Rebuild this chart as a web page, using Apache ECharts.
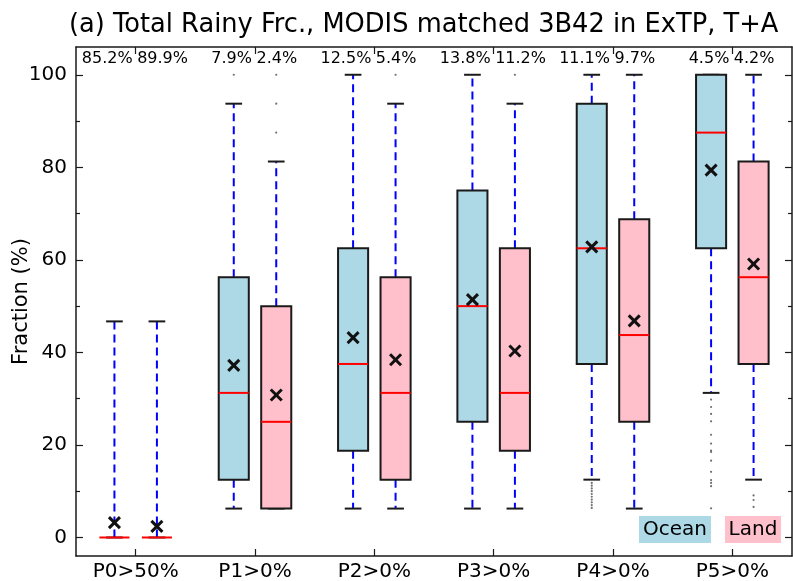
<!DOCTYPE html>
<html>
<head>
<meta charset="utf-8">
<script src="https://cdn.jsdelivr.net/npm/echarts@6/dist/echarts.min.js"></script>
<style>
  html, body { margin: 0; padding: 0; background: #fff; }
  #chart { width: 793px; height: 581px; }
</style>
</head>
<body>
<div id="chart"></div>
<script>
// Categories along the x axis
const categories = ['P0>50%', 'P1>0%', 'P2>0%', 'P3>0%', 'P4>0%', 'P5>0%'];

// Share of samples per group, printed above each box
const oceanPct = ['85.2%', '7.9%', '12.5%', '13.8%', '11.1%', '4.5%'];
const landPct  = ['89.9%', '2.4%', '5.4%', '11.2%', '9.7%', '4.2%'];

// Box statistics: [whisker low, Q1, median, Q3, whisker high]
const oceanStats = [
  [0, 0, 0, 0, 46.7],
  [6.25, 12.5, 31.25, 56.25, 93.75],
  [6.25, 18.75, 37.5, 62.5, 100],
  [6.25, 25, 50, 75, 100],
  [12.5, 37.5, 62.5, 93.75, 100],
  [31.25, 62.5, 87.5, 100, 100]
];
const landStats = [
  [0, 0, 0, 0, 46.7],
  [6.25, 6.25, 25, 50, 81.25],
  [6.25, 12.5, 31.25, 56.25, 93.75],
  [6.25, 18.75, 31.25, 62.5, 93.75],
  [6.25, 25, 43.75, 68.75, 100],
  [12.5, 37.5, 56.25, 81.25, 100]
];

// Means (drawn as x markers)
const oceanMean = [3.2, 37.2, 43.2, 51.4, 62.8, 79.4];
const landMean  = [2.4, 30.8, 38.4, 40.3, 46.8, 59.1];

// Fliers beyond the whiskers
const oceanOutliers = [
  [],
  [100],
  [],
  [],
  [11.8, 11.2, 10.6, 10.0, 9.4, 8.8, 8.2, 7.6, 7.0, 6.4],
  [29.8, 28.2, 26.7, 25.1, 22.2, 20.3, 18.8, 18.5, 16.6, 14.2, 12.4, 11.8, 11.1, 6.3]
];
const landOutliers = [
  [],
  [87.5, 93.75, 100],
  [100],
  [100],
  [],
  [9.1, 8.1, 6.6]
];

// Y tick values
const yMajorTicks = [0, 20, 40, 60, 80, 100];
const yMinorTicks = [10, 30, 50, 70, 90];
const Y_MIN = -4, Y_MAX = 106;

const FONT = 'DejaVu Sans';
const OCEAN_FILL = '#add8e6';
const LAND_FILL = '#ffc0cb';
const BOX_W = 0.252;   // box width, fraction of category band
const OFFSET = 0.178;  // box centre offset from category centre
const CAP_W = 0.14;    // whisker cap length
const EDGE = '#1a1a1a';

function boxRows(stats, means) {
  return stats.map((s, i) => [i].concat(s, [means[i]]));
}
function flierRows(list) {
  const rows = [];
  list.forEach((vals, i) => vals.forEach(v => rows.push([i, v])));
  return rows;
}

function renderBox(fill, sign) {
  return function (params, api) {
    const i = api.value(0);
    const band = api.size([1, 0])[0];
    const cx = api.coord([i, 0])[0] + sign * OFFSET * band;
    const bw = BOX_W * band, cw = CAP_W * band;
    const y = v => api.coord([i, v])[1];
    const low = y(api.value(1)), q1 = y(api.value(2)), med = y(api.value(3));
    const q3 = y(api.value(4)), high = y(api.value(5)), mean = y(api.value(6));
    const dash = { stroke: '#0000ff', lineWidth: 2, lineDash: [8, 5] };
    const cap = { stroke: EDGE, lineWidth: 2 };
    const children = [
      { type: 'line', shape: { x1: cx, y1: q1, x2: cx, y2: low }, style: dash },
      { type: 'line', shape: { x1: cx, y1: q3, x2: cx, y2: high }, style: dash },
      { type: 'line', shape: { x1: cx - cw / 2, y1: low, x2: cx + cw / 2, y2: low }, style: cap },
      { type: 'line', shape: { x1: cx - cw / 2, y1: high, x2: cx + cw / 2, y2: high }, style: cap }
    ];
    if (Math.abs(q1 - q3) > 0.5) {
      children.push({
        type: 'rect',
        shape: { x: cx - bw / 2, y: q3, width: bw, height: q1 - q3 },
        style: { fill: fill, stroke: EDGE, lineWidth: 2 }
      });
    }
    children.push({
      type: 'line',
      shape: { x1: cx - bw / 2, y1: med, x2: cx + bw / 2, y2: med },
      style: { stroke: '#ff0000', lineWidth: 2 }
    });
    const m = 5.5;
    const xs = { stroke: '#111', lineWidth: 3 };
    children.push({ type: 'line', shape: { x1: cx - m, y1: mean - m, x2: cx + m, y2: mean + m }, style: xs });
    children.push({ type: 'line', shape: { x1: cx - m, y1: mean + m, x2: cx + m, y2: mean - m }, style: xs });
    return { type: 'group', children: children };
  };
}

function renderFlier(sign) {
  return function (params, api) {
    const i = api.value(0);
    const band = api.size([1, 0])[0];
    const p = api.coord([i, api.value(1)]);
    return {
      type: 'circle',
      shape: { cx: p[0] + sign * OFFSET * band, cy: p[1], r: 1.1 },
      style: { fill: '#707070' }
    };
  };
}

function renderPct(params, api) {
  const i = api.value(0);
  const p = api.coord([i, Y_MAX]);
  const ty = p[1] + 12;
  const font = '16px ' + FONT;
  return {
    type: 'group',
    children: [
      { type: 'text', style: { x: p[0] - 3, y: ty, text: oceanPct[i], font: font, fill: '#000', align: 'right', verticalAlign: 'middle' } },
      { type: 'text', style: { x: p[0] + 1.5, y: ty, text: landPct[i], font: font, fill: '#000', align: 'left', verticalAlign: 'middle' } }
    ]
  };
}

const spine = { show: true, onZero: false, lineStyle: { color: EDGE, width: 1.5 } };
const tickStyle = { color: EDGE, width: 1.2 };

const option = {
  animation: false,
  backgroundColor: '#fff',
  textStyle: { fontFamily: FONT },
  title: {
    text: '(a) Total Rainy Frc., MODIS matched 3B42 in ExTP, T+A',
    left: 64, top: 7,
    textStyle: { fontFamily: FONT, fontSize: 25.7, fontWeight: 'normal', color: '#000' }
  },
  grid: { left: 76, right: 1, top: 47, bottom: 25, containLabel: false, outerBoundsMode: 'none' },
  xAxis: [
    {
      type: 'category', data: categories, position: 'bottom',
      axisLine: spine,
      axisTick: { show: true, inside: true, length: 7, alignWithLabel: true, lineStyle: tickStyle },
      axisLabel: { fontFamily: FONT, fontSize: 20, color: '#000', margin: 6 },
      splitLine: { show: false }
    },
    {
      type: 'category', data: categories, position: 'top',
      axisLine: spine,
      axisTick: { show: true, inside: true, length: 7, alignWithLabel: true, lineStyle: tickStyle },
      axisLabel: { show: false },
      splitLine: { show: false }
    }
  ],
  yAxis: [
    {
      type: 'value', min: Y_MIN, max: Y_MAX, position: 'left',
      name: 'Fraction (%)', nameLocation: 'middle', nameGap: 44, nameMoveOverlap: false,
      nameTextStyle: { fontFamily: FONT, fontSize: 21, color: '#000' },
      axisLine: spine,
      axisTick: { show: true, inside: true, length: 7, customValues: yMajorTicks, lineStyle: tickStyle },
      axisLabel: { fontFamily: FONT, fontSize: 20, color: '#000', margin: 9, customValues: yMajorTicks },
      splitLine: { show: false }
    },
    {
      type: 'value', min: Y_MIN, max: Y_MAX, position: 'right',
      axisLine: spine,
      axisTick: { show: true, inside: true, length: 7, customValues: yMajorTicks, lineStyle: tickStyle },
      axisLabel: { show: false, customValues: yMajorTicks },
      splitLine: { show: false }
    },
    {
      type: 'value', min: Y_MIN, max: Y_MAX, position: 'left', offset: 0,
      axisLine: { show: false },
      axisTick: { show: true, inside: true, length: 4, customValues: yMinorTicks, lineStyle: tickStyle },
      axisLabel: { show: false, customValues: yMinorTicks },
      splitLine: { show: false }
    },
    {
      type: 'value', min: Y_MIN, max: Y_MAX, position: 'right', offset: 0,
      axisLine: { show: false },
      axisTick: { show: true, inside: true, length: 4, customValues: yMinorTicks, lineStyle: tickStyle },
      axisLabel: { show: false, customValues: yMinorTicks },
      splitLine: { show: false }
    }
  ],
  series: [
    {
      name: 'Ocean', type: 'custom', xAxisIndex: 0, yAxisIndex: 0,
      renderItem: renderBox(OCEAN_FILL, -1),
      data: boxRows(oceanStats, oceanMean), encode: { x: 0, y: [1, 2, 3, 4, 5, 6] }, z: 3
    },
    {
      name: 'Land', type: 'custom', xAxisIndex: 0, yAxisIndex: 0,
      renderItem: renderBox(LAND_FILL, 1),
      data: boxRows(landStats, landMean), encode: { x: 0, y: [1, 2, 3, 4, 5, 6] }, z: 3
    },
    {
      name: 'Ocean fliers', type: 'custom', xAxisIndex: 0, yAxisIndex: 0,
      renderItem: renderFlier(-1), data: flierRows(oceanOutliers), encode: { x: 0, y: 1 }, z: 2
    },
    {
      name: 'Land fliers', type: 'custom', xAxisIndex: 0, yAxisIndex: 0,
      renderItem: renderFlier(1), data: flierRows(landOutliers), encode: { x: 0, y: 1 }, z: 2
    },
    {
      name: 'Share', type: 'custom', xAxisIndex: 0, yAxisIndex: 0,
      renderItem: renderPct, data: categories.map((c, i) => [i]), encode: { x: 0 }, z: 4
    }
  ],
  graphic: [
    { type: 'rect', shape: { x: 639, y: 516, width: 72, height: 27 }, style: { fill: OCEAN_FILL }, z: 10 },
    { type: 'text', style: { x: 675, y: 530, text: 'Ocean', font: '20px ' + FONT, fill: '#000', align: 'center', verticalAlign: 'middle' }, z: 11 },
    { type: 'rect', shape: { x: 725, y: 516, width: 56, height: 27 }, style: { fill: LAND_FILL }, z: 10 },
    { type: 'text', style: { x: 753, y: 530, text: 'Land', font: '20px ' + FONT, fill: '#000', align: 'center', verticalAlign: 'middle' }, z: 11 }
  ]
};

const chart = echarts.init(document.getElementById('chart'), null, { renderer: 'canvas' });
chart.setOption(option);
</script>
</body>
</html>
